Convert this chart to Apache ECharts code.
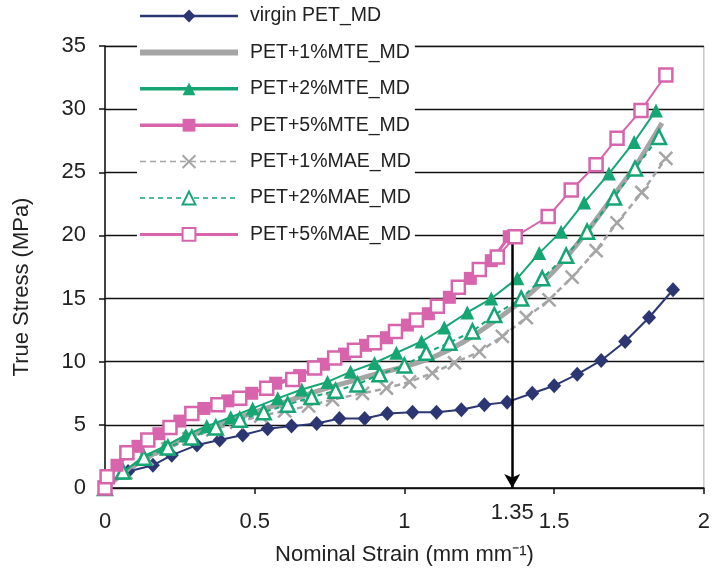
<!DOCTYPE html>
<html>
<head>
<meta charset="utf-8">
<script src="https://cdn.jsdelivr.net/npm/echarts@6/dist/echarts.min.js"></script>
<style>html,body{margin:0;padding:0;background:#fff;}#c{width:713px;height:580px;}</style>
</head>
<body>
<div id="c"></div>
<script>
// ---- data ----
const seriesNames = ["virgin PET_MD","PET+1%MTE_MD","PET+2%MTE_MD","PET+5%MTE_MD","PET+1%MAE_MD","PET+2%MAE_MD","PET+5%MAE_MD"];
const xTicks = [0, 0.5, 1, 1.5, 2];
const yTicks = [0, 5, 10, 15, 20, 25, 30, 35];

const xVirgin = [0,0.077,0.16,0.223,0.307,0.383,0.46,0.543,0.623,0.707,0.783,0.867,0.943,1.027,1.107,1.19,1.267,1.343,1.427,1.5,1.577,1.657,1.737,1.817,1.897];
const yVirgin = [0.3,1.3,1.8,2.6,3.4,3.8,4.2,4.7,4.9,5.1,5.5,5.5,5.9,6.0,6.0,6.2,6.6,6.8,7.5,8.1,9.0,10.1,11.6,13.5,15.7];

const xMTE1 = [0,0.1,0.2,0.3,0.4,0.5,0.6,0.7,0.8,0.9,1.0,1.1,1.2,1.3,1.4,1.5,1.6,1.7,1.78,1.86];
const yMTE1 = [0,1.8,3.2,4.3,5.2,6.0,6.8,7.6,8.3,9.0,9.6,10.4,11.6,13.2,15.0,17.2,20.0,23.2,25.8,28.9];

const xMTE2 = [0,0.06,0.127,0.2,0.27,0.34,0.42,0.493,0.577,0.657,0.743,0.82,0.9,0.973,1.057,1.133,1.21,1.29,1.377,1.45,1.523,1.6,1.683,1.767,1.84];
const yMTE2 = [0,1.2,2.5,3.3,4.2,4.9,5.6,6.3,7.1,7.8,8.4,9.2,9.9,10.7,11.6,12.7,13.9,15.0,16.6,18.6,20.3,22.6,24.9,27.4,29.9];

const xMTE5 = [0,0.04,0.11,0.18,0.25,0.33,0.41,0.49,0.57,0.65,0.73,0.8,0.87,0.94,1.01,1.08,1.15,1.22,1.29,1.35];
const yMTE5 = [0.1,1.8,3.3,4.3,5.3,6.3,6.9,7.5,8.3,8.9,9.8,10.6,11.3,11.9,12.9,13.8,15.1,16.6,18.0,19.9];

const xMAE1 = [0,0.07,0.14,0.21,0.28,0.36,0.44,0.52,0.6,0.68,0.76,0.86,0.94,1.017,1.093,1.167,1.25,1.327,1.407,1.483,1.56,1.64,1.71,1.793,1.873];
const yMAE1 = [0,1.2,2.3,3.1,3.9,4.6,5.2,5.7,6.1,6.5,7.0,7.5,7.9,8.4,9.1,9.9,10.8,12.0,13.5,14.9,16.7,18.8,21.0,23.4,26.1];

const xMAE2 = [0,0.06,0.13,0.21,0.29,0.37,0.45,0.53,0.61,0.69,0.77,0.843,0.917,1.0,1.073,1.15,1.227,1.3,1.39,1.46,1.54,1.61,1.7,1.77,1.85];
const yMAE2 = [0,1.3,2.4,3.2,4.0,4.8,5.4,6.0,6.6,7.2,7.7,8.2,9.0,9.7,10.7,11.5,12.4,13.7,15.0,16.6,18.4,20.3,23.0,25.3,27.8];

const xMAE5 = [0,0.007,0.073,0.143,0.217,0.29,0.377,0.45,0.54,0.627,0.7,0.767,0.833,0.9,0.97,1.04,1.11,1.18,1.25,1.31,1.37,1.48,1.557,1.64,1.71,1.79,1.873];
const yMAE5 = [0,0.9,2.8,3.8,4.8,5.9,6.6,7.1,7.9,8.6,9.5,10.3,10.9,11.5,12.4,13.3,14.4,15.9,17.3,18.3,19.9,21.5,23.6,25.6,27.7,29.9,32.7];

const arrowX = 1.36;       // position of the break-strain arrow
const arrowTop = 20.4;
const arrowLabel = "1.35";

// ---- helpers ----
const pairs = (xs, ys) => xs.map((x, i) => [x, ys[i]]);

const NAVY = '#2B3673', GRAY = '#A5A5A5', GREEN = '#16A673', PINK = '#D764AC';
const FONT = '"Liberation Sans", Arial, sans-serif';

const legendLineWidths = [2.5, 6, 3.5, 3.5, 1.5, 1.5, 3];
const legendData = seriesNames.map((n, i) => {
  const d = {name: n, lineStyle: {width: legendLineWidths[i]}};
  if (i === 1) d.itemStyle = {opacity: 0};
  return d;
});

const chart = echarts.init(document.getElementById('c'), null, {renderer: 'canvas'});
chart.setOption({
  animation: false,
  backgroundColor: '#fff',
  grid: {left: 105, right: 8, top: 46, bottom: 92, show: true, borderColor: '#aaa', borderWidth: 1, backgroundColor: 'transparent'},
  legend: {
    orient: 'vertical', left: 137, top: 2, selectedMode: false,
    itemWidth: 98, itemHeight: 16, itemGap: 16.4,
    padding: [4, 4, 4, 0],
    backgroundColor: '#fff',
    textStyle: {fontFamily: FONT, fontSize: 19.5, color: '#222', lineHeight: 16, padding: [0, 0, 0, 7]},
    data: legendData
  },
  xAxis: {
    type: 'value', min: 0, max: 2, interval: 0.5,
    name: 'Nominal Strain (mm mm\u207B\u00B9)', nameLocation: 'middle', nameGap: 56,
    nameTextStyle: {fontFamily: FONT, fontSize: 22, color: '#222'},
    axisLine: {onZero: false, lineStyle: {color: '#111', width: 1.5}},
    axisTick: {show: true, inside: false, length: 6, lineStyle: {color: '#111', width: 1.5}},
    axisLabel: {fontFamily: FONT, fontSize: 22, color: '#222', margin: 23,
      formatter: v => xTicks.includes(v) ? String(v) : ''},
    splitLine: {show: false}
  },
  yAxis: {
    type: 'value', min: 0, max: 35, interval: 5,
    name: 'True Stress (MPa)', nameLocation: 'middle', nameGap: 72, nameRotate: 90,
    nameTextStyle: {fontFamily: FONT, fontSize: 22, color: '#222', padding: [0, 40, 0, 0]},
    axisLine: {show: true, lineStyle: {color: '#111', width: 1.5}},
    axisTick: {show: true, length: 6, lineStyle: {color: '#111', width: 1.5}},
    axisLabel: {fontFamily: FONT, fontSize: 22, color: '#222', margin: 19,
      formatter: v => yTicks.includes(v) ? String(v) : ''},
    splitLine: {show: true, lineStyle: {color: '#111', width: 1.4}}
  },
  series: [
    {name: seriesNames[0], type: 'line', data: pairs(xVirgin, yVirgin), symbol: 'diamond', symbolSize: [14, 15],
     lineStyle: {color: NAVY, width: 2}, itemStyle: {color: NAVY}, z: 3,
     markLine: {
       silent: true, symbol: ['none', 'arrow'], symbolSize: [12, 14],
       lineStyle: {color: '#000', width: 2.5, type: 'solid'},
       label: {show: true, position: 'end', formatter: arrowLabel, fontFamily: FONT, fontSize: 22, color: '#222', distance: 14},
       data: [[{coord: [arrowX, arrowTop]}, {coord: [arrowX, 0]}]]
     }},
    {name: seriesNames[1], type: 'line', data: pairs(xMTE1, yMTE1), symbol: 'none', smooth: 0.3,
     lineStyle: {color: GRAY, width: 5}, itemStyle: {color: GRAY}, z: 2},
    {name: seriesNames[2], type: 'line', data: pairs(xMTE2, yMTE2), symbol: 'triangle', symbolSize: 14,
     lineStyle: {color: GREEN, width: 2}, itemStyle: {color: GREEN}, z: 4},
    {name: seriesNames[3], type: 'line', data: pairs(xMTE5, yMTE5), symbol: 'rect', symbolSize: 13,
     lineStyle: {color: PINK, width: 3}, itemStyle: {color: PINK}, z: 5},
    {name: seriesNames[4], type: 'line', data: pairs(xMAE1, yMAE1), symbol: 'path://M0,0L10,10M10,0L0,10', symbolSize: 13,
     lineStyle: {color: GRAY, width: 2.5, type: [6, 4]}, itemStyle: {color: GRAY, borderColor: GRAY, borderWidth: 2.5}, z: 3},
    {name: seriesNames[5], type: 'line', data: pairs(xMAE2, yMAE2), symbol: 'triangle', symbolSize: 14,
     lineStyle: {color: GREEN, width: 2, type: [5, 4]}, itemStyle: {color: '#fff', borderColor: GREEN, borderWidth: 2.5}, z: 4},
    {name: seriesNames[6], type: 'line', data: pairs(xMAE5, yMAE5), symbol: 'rect', symbolSize: 13,
     lineStyle: {color: PINK, width: 2}, itemStyle: {color: '#fff', borderColor: PINK, borderWidth: 2.5}, z: 6}
  ]
});
</script>
</body>
</html>
